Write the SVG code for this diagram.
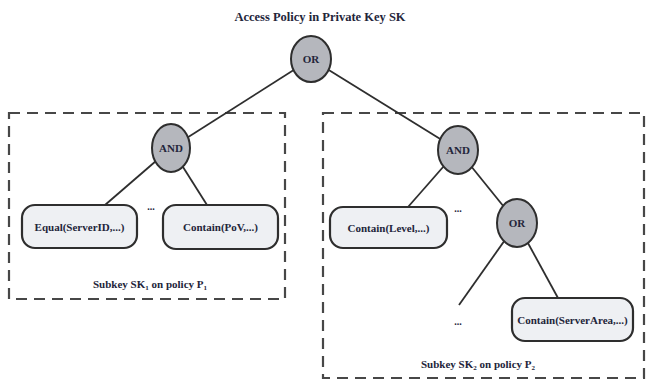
<svg xmlns="http://www.w3.org/2000/svg" width="646" height="380" viewBox="0 0 646 380">
  <style>
    .txt { font-family: "Liberation Serif", "Times New Roman", serif; font-weight: bold; fill: #23253a; text-anchor: middle; }
    .gate { fill: #b5b7bd; stroke: #2e2e2e; stroke-width: 2; }
    .leaf { fill: #eef0f3; stroke: #2e2e2e; stroke-width: 2.2; }
    .edge { stroke: #2e2e2e; stroke-width: 1.8; fill: none; }
    .group { fill: none; stroke: #474747; stroke-width: 2.2; stroke-dasharray: 11 7; }
  </style>
  <rect width="646" height="380" fill="#ffffff"/>

  <!-- policy sub-trees -->
  <g id="subkey1">
    <rect class="group" x="9" y="113" width="276" height="186"/>
    <text class="txt" x="150" y="288" font-size="11">Subkey SK<tspan font-size="7" dy="2">1</tspan><tspan dy="-2"> on policy P</tspan><tspan font-size="7" dy="2">1</tspan></text>
  </g>
  <g id="subkey2">
    <rect class="group" x="323" y="113" width="321" height="265"/>
    <text class="txt" x="478" y="368" font-size="11">Subkey SK<tspan font-size="7" dy="2">2</tspan><tspan dy="-2"> on policy P</tspan><tspan font-size="7" dy="2">2</tspan></text>
  </g>

  <text id="title" class="txt" x="320" y="21" font-size="12.5">Access Policy in Private Key SK</text>

  <!-- connectors -->
  <g id="connectors">
    <line class="edge" x1="311" y1="59" x2="171" y2="148"/>
    <line class="edge" x1="311" y1="59" x2="458" y2="150"/>
    <line class="edge" x1="171" y1="148" x2="105" y2="205"/>
    <line class="edge" x1="171" y1="148" x2="207" y2="205"/>
    <line class="edge" x1="458" y1="150" x2="408" y2="207"/>
    <line class="edge" x1="458" y1="150" x2="517" y2="223"/>
    <line class="edge" x1="517" y1="223" x2="459" y2="305"/>
    <line class="edge" x1="517" y1="223" x2="558" y2="298"/>
  </g>

  <!-- gates -->
  <g id="root-or">
    <ellipse class="gate" cx="311" cy="59" rx="20" ry="23"/>
    <text class="txt" x="311" y="63" font-size="11">OR</text>
  </g>
  <g id="and-left">
    <ellipse class="gate" cx="171" cy="148" rx="19" ry="24"/>
    <text class="txt" x="171" y="152" font-size="11">AND</text>
  </g>
  <g id="and-right">
    <ellipse class="gate" cx="458" cy="150" rx="20" ry="24"/>
    <text class="txt" x="458" y="154" font-size="11">AND</text>
  </g>
  <g id="or-right">
    <ellipse class="gate" cx="517" cy="223" rx="20" ry="24"/>
    <text class="txt" x="517" y="227" font-size="11">OR</text>
  </g>

  <!-- attribute leaves -->
  <g id="leaf-serverid">
    <rect class="leaf" x="22" y="205" width="115" height="43" rx="13"/>
    <text class="txt" x="79.5" y="230.5" font-size="11">Equal(ServerID,...)</text>
  </g>
  <g id="leaf-pov">
    <rect class="leaf" x="163" y="205" width="115" height="44" rx="13"/>
    <text class="txt" x="220.5" y="231" font-size="11">Contain(PoV,...)</text>
  </g>
  <g id="leaf-level">
    <rect class="leaf" x="330" y="207" width="117" height="41" rx="13"/>
    <text class="txt" x="388.5" y="231.5" font-size="11">Contain(Level,...)</text>
  </g>
  <g id="leaf-serverarea">
    <rect class="leaf" x="512" y="298" width="121" height="43" rx="13"/>
    <text class="txt" x="572.5" y="323.5" font-size="11">Contain(ServerArea,...)</text>
  </g>

  <!-- elided siblings -->
  <text class="txt" x="151" y="210" font-size="10">...</text>
  <text class="txt" x="458" y="212" font-size="10">...</text>
  <text class="txt" x="458" y="325" font-size="10">...</text>
</svg>
